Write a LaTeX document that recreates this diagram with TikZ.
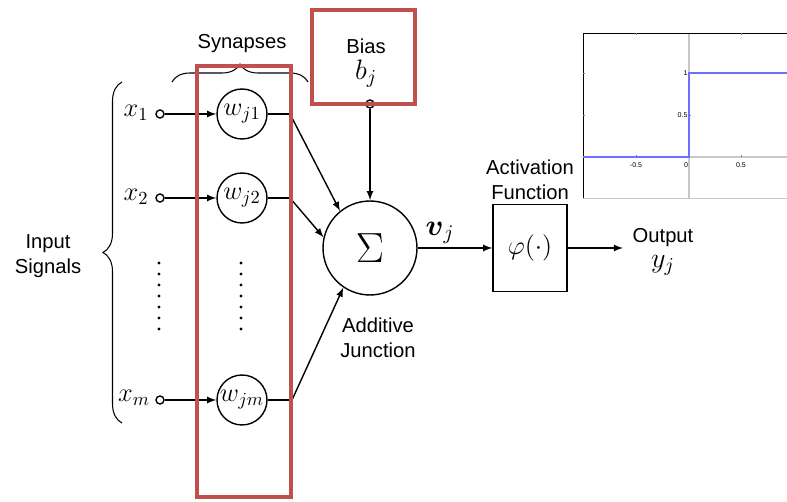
\RequirePackage{fix-cm}
\documentclass[tikz,border=0pt]{standalone}
\usepackage{amsmath}
\usepackage{fontspec}
\setmainfont{Liberation Sans}
\usetikzlibrary{decorations.pathreplacing}

\definecolor{boxred}{RGB}{192,80,77}
\definecolor{plotblue}{RGB}{110,110,255}
\definecolor{axisgray}{RGB}{200,200,200}

\tikzset{
  weight/.style={draw, circle, minimum size=1cm, inner sep=0pt, font=\fontsize{15}{15}\selectfont},
  tap/.style={draw, circle, minimum size=0.16cm, inner sep=0pt, fill=white},
  redbox/.style={draw=boxred, line width=2.8pt},
  caption/.style={font=\fontsize{11.5}{14.5}\selectfont, align=center},
  sym/.style={font=\fontsize{15}{15}\selectfont},
  tick/.style={font=\fontsize{4}{4}\selectfont, inner sep=0.5pt},
  arr/.style={-latex},
}

\begin{document}
\begin{tikzpicture}[x=0.02cm, y=-0.02cm, thick]
  \useasboundingbox (0,0) rectangle (787,502);

  % -- Inputs and weights --
  \node[tap] (t1) at (160,114) {};
  \node[tap] (t2) at (160,198) {};
  \node[tap] (tm) at (160,400) {};
  \node[sym] (x1) at (136,113) {$x_1$};
  \node[sym] (x2) at (136,197) {$x_2$};
  \node[sym] (xm) at (134,398) {$x_m$};
  \node[weight] (w1) at (242,114) {$w_{j1}$};
  \node[weight] (w2) at (242,198) {$w_{j2}$};
  \node[weight] (wm) at (242,400) {$w_{jm}$};
  \draw[arr] (t1) -- (w1);
  \draw[arr] (t2) -- (w2);
  \draw[arr] (tm) -- (wm);

  % -- Dots --
  \foreach \y in {263,274,...,330} {
    \fill (159,\y) circle (1.6);
    \fill (241,\y) circle (1.6);
  }

  % -- Braces --
  \draw[semithick, decorate, decoration={brace, amplitude=0.36cm}] (172,82) -- (308,82);
  \draw[semithick, decorate, decoration={brace, amplitude=0.38cm}] (122,423) -- (122,82);
  \node[caption] (synapses) at (242,44) {Synapses};
  \node[caption] (inputs) at (48,256) {Input\\Signals};

  % -- Summing junction --
  \node[draw, circle, minimum size=1.88cm, inner sep=0pt] (sum) at (370,248)
    {\fontsize{24}{24}\selectfont$\Sigma$};
  \coordinate (k1) at (290,114);
  \coordinate (k2) at (290,198);
  \coordinate (km) at (292,400);
  \draw (w1) -- (k1);
  \draw (w2) -- (k2);
  \draw (wm) -- (km);
  \draw[arr] (k1) -- (sum.129);
  \draw[arr] (k2) -- (sum.167);
  \draw[arr] (km) -- (sum.236);
  \node[caption] (additive) at (378,338) {Additive\\Junction};

  % -- Bias --
  \node[tap] (bt) at (370,104) {};
  \node[caption] (bias) at (366,63) {Bias\\\fontsize{16}{16}\selectfont$b_j$};
  \draw[arr] (bt) -- (sum);

  % -- Activation and output --
  \node[draw, minimum width=1.48cm, minimum height=1.74cm, sym] (phi) at (530,248) {$\varphi(\cdot)$};
  \node[caption] (act) at (530,180) {Activation\\Function};
  \draw[arr] (sum) -- (phi);
  \node[sym, font=\fontsize{17}{17}\selectfont] (vj) at (440,233) {$\boldsymbol{v}_j$};
  \coordinate (out) at (623,248);
  \draw[arr] (phi) -- (out);
  \node[caption] (output) at (663,252) {Output\\\fontsize{16}{16}\selectfont$y_j$};

  % -- Red highlight boxes --
  \draw[redbox] (197,66) rectangle (291,497);
  \draw[redbox] (312,10) rectangle (415,104);

  % -- Step function plot --
  \draw[thin, axisgray] (583,198) -- (787,198);
  \draw[thin, axisgray, line width=0.9pt] (689,33) -- (689,198);
  \draw[thin, axisgray, line width=0.9pt] (583,157) -- (787,157);
  \draw[thin, black] (583,198) -- (583,33) -- (787,33);
  \foreach \x in {636,741} {
    \draw[very thin, gray] (\x,33) -- (\x,35);
    \draw[very thin, gray] (\x,157) -- (\x,155);
  }
  \foreach \y in {73,115} {
    \draw[very thin, gray] (583,\y) -- (585,\y);
    \draw[very thin, gray] (689,\y) -- (691,\y);
  }
  \node[tick] at (636,165) {-0.5};
  \node[tick] at (686,165) {0};
  \node[tick] at (741,165) {0.5};
  \node[tick, anchor=east] at (689,73) {1};
  \node[tick, anchor=east] at (689,115) {0.5};
  \draw[plotblue, line width=1.2pt] (583,157) -- (689,157) -- (689,73) -- (787,73);

\end{tikzpicture}
\end{document}
